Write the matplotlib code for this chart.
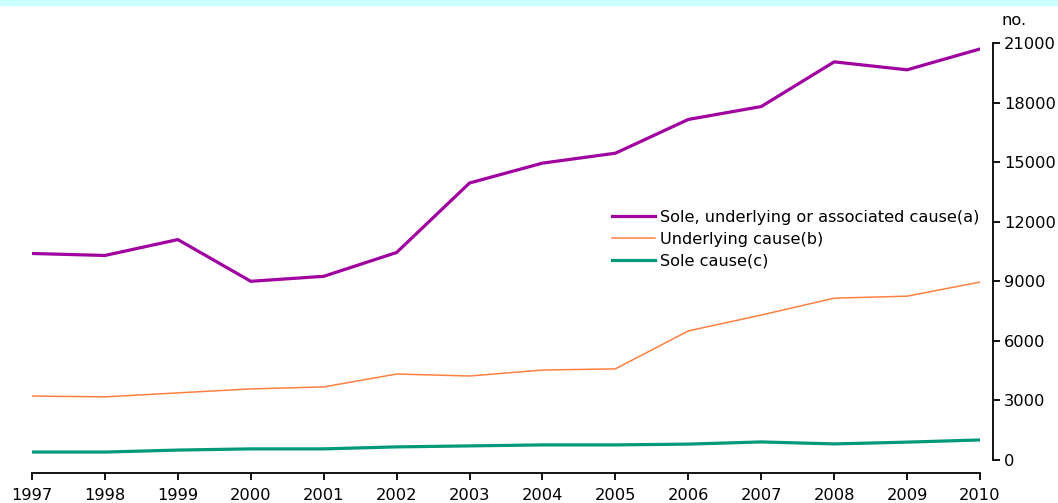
import matplotlib
matplotlib.use("Agg")
import matplotlib.pyplot as plt

years = list(range(1997, 2011))
sole_underlying_assoc = [10400, 10300, 11100, 9000, 9250, 10450, 13950, 14950, 15450,
                         17150, 17800, 20050, 19650, 20700]
underlying = [3220, 3180, 3380, 3580, 3680, 4330, 4230, 4530, 4590,
              6500, 7300, 8150, 8250, 8960]
sole = [400, 400, 500, 560, 560, 660, 710, 760, 760, 800, 910, 810, 900, 1010]

labels = ["Sole, underlying or associated cause(a)", "Underlying cause(b)", "Sole cause(c)"]
yticks = list(range(0, 21001, 3000))

W, H = 1058, 503
fig = plt.figure(figsize=(W / 100, H / 100), dpi=100)
plt.rcParams['font.family'] = ['DejaVu Sans']

# light cyan strip along the top
fig.patches.append(plt.Rectangle((0, 1 - 5 / H), 1, 5 / H, transform=fig.transFigure,
                                 color='#ccffff', zorder=0))

ax = fig.add_axes([32 / W, (H - 460) / H, (980 - 32) / W, (460 - 43) / H])
ax.plot(years, sole_underlying_assoc, color='#a000a0', lw=2.3, label=labels[0])
ax.plot(years, underlying, color='#ff8040', lw=1.1, label=labels[1])
ax.plot(years, sole, color='#00997a', lw=2.3, label=labels[2])

ax.set_xlim(1997, 2010)
ax.set_ylim(0, 21000)
ax.set_xticks(years)
ax.set_yticks(yticks)

ax.spines['left'].set_visible(False)
ax.spines['top'].set_visible(False)
ax.spines['bottom'].set_position(('outward', 9.4))
ax.spines['right'].set_position(('outward', 9.4))
ax.spines['bottom'].set_linewidth(1.3)
ax.spines['right'].set_linewidth(1.3)
ax.yaxis.tick_right()
ax.tick_params(axis='both', length=5, width=1.3, labelsize=11.7, colors='black')
ax.tick_params(axis='x', pad=6)
ax.tick_params(axis='y', pad=3)

ax.text(1.036, 1.035, "no.", transform=ax.transAxes, fontsize=11.7, ha='center', va='bottom')

ax.legend(loc='upper left', bbox_to_anchor=(580 / 948, (460 - 210) / 417), frameon=False,
          fontsize=11.6, handlelength=2.65, handletextpad=0.3, labelspacing=0.42,
          borderaxespad=0, borderpad=0)

fig.savefig("out.png", dpi=100)
